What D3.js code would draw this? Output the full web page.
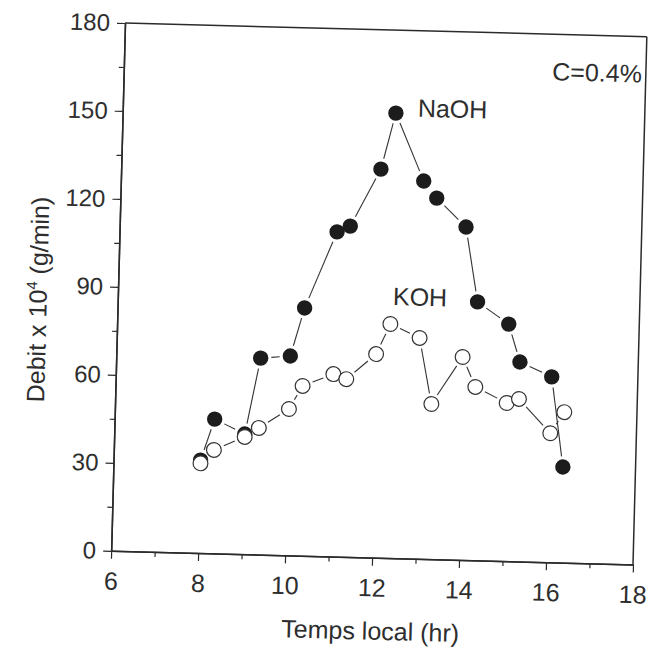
<!DOCTYPE html>
<html>
<head>
<meta charset="utf-8">
<script src="https://cdn.jsdelivr.net/npm/d3@7"></script>
<style>
  body { margin: 0; background: #fff; }
  svg { display: block; }
  text { font-family: "Liberation Sans", Arial, sans-serif; fill: #2e2e2e; }
  .axis path, .axis line { stroke: #2b2b2b; }
  .axis path { stroke-width: 1.5; }
  .axis line { stroke-width: 1.2; }
</style>
</head>
<body>
<svg width="649" height="657"></svg>
<script>
// values
var times = [8.0, 8.3, 9.0, 9.32, 10.0, 10.3, 11.0, 11.3, 11.97, 12.28, 12.96, 13.27, 13.96, 14.27, 15.0, 15.28, 16.02, 16.33];
var naoh = [31.7, 45.8, 41, 67, 68, 84.5, 110.7, 112.8, 132.5, 151.7, 128.8, 123.1, 113.5, 88.1, 80.8, 68, 63.2, 32.6];
var koh = [30.6, 35.3, 40, 43.2, 49.9, 57.9, 62.2, 60.6, 69.4, 79.8, 75.3, 52.9, 69.2, 59.1, 53.9, 55.4, 44, 51.3];
var xTicks = [6, 8, 10, 12, 14, 16, 18];
var xMinor = [7, 9, 11, 13, 15, 17];
var yTicks = [0, 30, 60, 90, 120, 150, 180];
var yMinor = [15, 45, 75, 105, 135, 165];

var svg = d3.select("svg");
var width = 522;
var height = 528;
var r = 7.7;
var gap = 3;

// the scan is tilted a little, so the whole plot is turned with it
var g = svg.append("g").attr("transform", "translate(125,23) rotate(1.5)");

var xScale = d3.scaleLinear().domain([6, 18]).range([0, width]);
var yScale = d3.scaleLinear().domain([0, 180]).range([height, 0]);

// frame (top and right)
g.append("line")
  .attr("x1", xScale(6)).attr("y1", yScale(180))
  .attr("x2", xScale(18)).attr("y2", yScale(180))
  .attr("stroke", "#2b2b2b").attr("stroke-width", 1.5);
g.append("line")
  .attr("x1", xScale(18)).attr("y1", yScale(180))
  .attr("x2", xScale(18)).attr("y2", yScale(0))
  .attr("stroke", "#2b2b2b").attr("stroke-width", 1.5);

// minor ticks
g.append("g")
  .attr("class", "axis")
  .attr("transform", "translate(0," + height + ")")
  .call(d3.axisBottom(xScale).tickValues(xMinor).tickSize(5).tickSizeOuter(0).tickFormat(""));
g.append("g")
  .attr("class", "axis")
  .call(d3.axisLeft(yScale).tickValues(yMinor).tickSize(5).tickSizeOuter(0).tickFormat(""));

// major axes
g.append("g")
  .attr("class", "axis")
  .attr("transform", "translate(0," + height + ")")
  .call(d3.axisBottom(xScale).tickValues(xTicks).tickSize(8).tickPadding(13).tickSizeOuter(0))
  .call((a) => a.selectAll("text").attr("font-size", "25px").attr("font-family", null));
g.append("g")
  .attr("class", "axis")
  .call(d3.axisLeft(yScale).tickValues(yTicks).tickSize(8).tickPadding(7).tickSizeOuter(0))
  .call((a) => a.selectAll("text").attr("font-size", "24px").attr("font-family", null));

// axis titles
g.append("text")
  .attr("x", xScale(12))
  .attr("y", 610)
  .attr("text-anchor", "middle")
  .attr("font-size", "25px")
  .text("Temps local (hr)");

var yt = g.append("text")
  .attr("transform", "translate(-71," + yScale(85) + ") rotate(-90)")
  .attr("text-anchor", "middle")
  .attr("font-size", "25px");
yt.append("tspan").text("Debit x 10");
yt.append("tspan").attr("font-size", "15px").attr("dy", "-10").text("4");
yt.append("tspan").attr("dy", "10").text(" (g/min)");

// connecting lines stop short of the markers
function drawSeries(values, filled) {
  var pts = times.map((t, i) => [xScale(t), yScale(values[i])]);
  var segs = d3.pairs(pts).filter((p) => {
    var dx = p[1][0] - p[0][0], dy = p[1][1] - p[0][1];
    return Math.sqrt(dx * dx + dy * dy) > 2 * (r + gap);
  });
  g.append("g")
    .selectAll("line")
    .data(segs)
    .enter()
    .append("line")
    .each(function (p) {
      var dx = p[1][0] - p[0][0], dy = p[1][1] - p[0][1];
      var len = Math.sqrt(dx * dx + dy * dy);
      var k = (r + gap) / len;
      d3.select(this)
        .attr("x1", p[0][0] + dx * k).attr("y1", p[0][1] + dy * k)
        .attr("x2", p[1][0] - dx * k).attr("y2", p[1][1] - dy * k);
    })
    .attr("stroke", "#333")
    .attr("stroke-width", 1.1);

  g.append("g")
    .selectAll("circle")
    .data(pts)
    .enter()
    .append("circle")
    .attr("cx", (d) => d[0])
    .attr("cy", (d) => d[1])
    .attr("r", filled ? r : r - 0.3)
    .attr("fill", filled ? "#1c1c1c" : "#fff")
    .attr("stroke", filled ? "none" : "#333")
    .attr("stroke-width", 1.2);
}

drawSeries(naoh, true);
drawSeries(koh, false);

// labels inside the plot
g.append("text").attr("x", 295).attr("y", 86).attr("font-size", "25px").text("NaOH");
g.append("text").attr("x", 275).attr("y", 275).attr("font-size", "25px").text("KOH");
g.append("text").attr("x", width - 4).attr("y", 46).attr("text-anchor", "end").attr("font-size", "25px").text("C=0.4%");
</script>
</body>
</html>
